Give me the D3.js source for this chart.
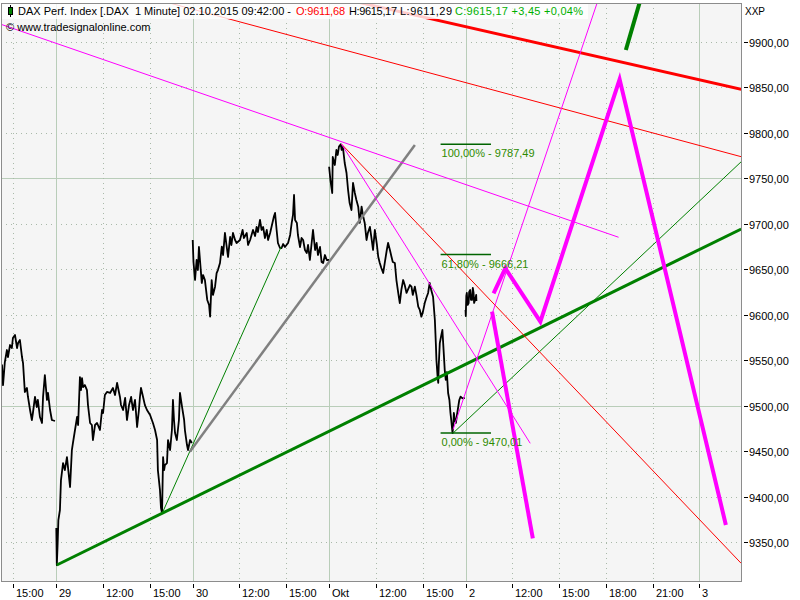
<!DOCTYPE html>
<html><head><meta charset="utf-8">
<script src="https://cdn.jsdelivr.net/npm/d3@7"></script>
<style>
html,body{margin:0;padding:0;background:#fff;}
svg{display:block;font-family:"Liberation Sans",Arial,sans-serif;}
</style></head>
<body><svg id="c" width="800" height="600"></svg>
<script>
// ---------- DATA ----------
// price path per session: [minutes after 09:00, price]
const sep28 = [[312,9530.5],[316,9544.8],[320,9522.7],[327,9548.1],[335,9561.3],[339,9553.6],[347,9566.8],[354,9563.5],[358,9574.5],[366,9577.8],[374,9563.5],[378,9569.0],[385,9572.3],[393,9553.6],[397,9547.0],[404,9515.2],[412,9519.6],[416,9509.7],[424,9495.4],[431,9484.4],[435,9492.1],[443,9509.7],[450,9498.7],[454,9506.4],[462,9487.7],[470,9481.1],[474,9509.7],[481,9533.8],[489,9506.4],[493,9514.1],[501,9495.4],[508,9484.4],[520,9483.3]];
const sep29 = [[0,9365.7],[2,9325.1],[5,9347.0],[8,9374.5],[14,9385.5],[18,9418.4],[26,9437.1],[33,9429.4],[41,9443.7],[53,9410.7],[60,9451.4],[64,9459.1],[72,9473.4],[80,9487.7],[84,9478.9],[91,9531.6],[95,9517.3],[99,9530.5],[103,9520.6],[110,9522.8],[118,9517.3],[122,9500.8],[130,9481.1],[137,9478.9],[141,9462.4],[149,9478.9],[157,9481.1],[168,9473.4],[176,9495.4],[180,9492.1],[187,9511.9],[195,9515.2],[207,9514.1],[218,9519.6],[226,9511.9],[234,9525.1],[245,9509.7],[249,9500.9],[257,9495.4],[265,9508.6],[272,9484.4],[280,9500.9],[288,9509.7],[295,9495.4],[303,9506.4],[311,9476.7],[318,9495.4],[322,9509.7],[326,9519.6],[334,9509.7],[341,9500.8],[349,9495.4],[361,9489.9],[372,9481.1],[380,9473.4],[388,9462.4],[391,9429.4],[399,9407.4],[403,9387.6],[407,9382.1],[411,9443.7],[415,9429.4],[418,9434.9],[426,9437.1],[430,9462.4],[438,9451.4],[445,9473.4],[449,9506.4],[453,9484.4],[457,9470.1],[464,9462.4],[472,9484.4],[476,9514.1],[480,9506.4],[484,9498.7],[492,9484.4],[495,9473.4],[503,9456.9],[507,9451.4],[515,9462.4],[522,9459.1]];
const sep30 = [[0,9682.2],[3,9658.0],[9,9638.2],[15,9660.2],[20,9649.2],[24,9674.5],[35,9634.9],[40,9643.7],[47,9638.2],[56,9616.3],[63,9610.8],[67,9597.9],[73,9638.2],[78,9621.8],[86,9630.9],[92,9645.9],[97,9649.2],[105,9656.9],[112,9674.8],[117,9665.7],[124,9689.9],[130,9676.7],[136,9663.5],[144,9685.5],[149,9676.7],[155,9689.9],[163,9682.2],[169,9678.9],[182,9682.2],[192,9693.2],[197,9684.4],[208,9689.9],[213,9676.7],[221,9682.2],[232,9693.2],[240,9686.6],[246,9696.5],[251,9691.0],[259,9704.2],[265,9693.2],[271,9696.5],[278,9684.4],[285,9693.2],[290,9682.2],[298,9689.9],[305,9698.7],[313,9708.6],[317,9711.9],[323,9693.2],[328,9678.9],[336,9673.4],[342,9673.4],[348,9677.8],[355,9674.5],[367,9678.9],[375,9687.7],[381,9700.9],[386,9709.7],[390,9731.7],[394,9704.2],[401,9700.9],[405,9687.7],[413,9674.5],[419,9684.4],[425,9682.2],[432,9671.2],[439,9667.9],[444,9676.7],[451,9660.2],[457,9676.7],[463,9693.2],[471,9671.2],[477,9678.9],[482,9665.7],[490,9674.5],[496,9658.0],[502,9656.9],[509,9665.7],[516,9660.2],[525,9660.2]];
const oct01 = [[0,9762.7],[5,9748.1],[12,9733.8],[14,9773.4],[22,9764.6],[28,9781.1],[33,9775.6],[38,9784.8],[45,9787.49],[48,9781.1],[53,9784.6],[60,9766.8],[67,9755.8],[73,9737.1],[79,9722.8],[86,9715.1],[92,9744.8],[99,9733.8],[105,9726.1],[112,9718.8],[118,9700.9],[125,9718.8],[130,9709.7],[137,9700.9],[144,9682.2],[149,9689.9],[157,9696.5],[164,9682.2],[169,9671.2],[176,9693.2],[184,9676.7],[189,9663.8],[195,9656.9],[201,9651.4],[208,9645.9],[214,9656.9],[222,9671.2],[227,9678.9],[234,9671.2],[240,9663.8],[245,9658.0],[253,9656.9],[259,9638.2],[266,9624.0],[272,9612.9],[278,9627.3],[285,9638.2],[291,9632.7],[298,9624.0],[303,9627.3],[311,9632.7],[317,9630.9],[322,9621.8],[330,9630.9],[336,9621.8],[343,9608.9],[349,9605.3],[355,9597.9],[361,9603.2],[368,9612.9],[374,9618.5],[381,9624.0],[387,9635.0],[393,9627.3],[400,9619.9],[407,9594.3],[411,9566.8],[413,9550.3],[417,9533.8],[420,9525.1],[422,9544.8],[426,9569.0],[432,9577.8],[436,9583.3],[442,9554.0],[445,9539.3],[449,9528.4],[453,9537.1],[458,9514.1],[463,9506.4],[467,9492.1],[470,9484.4],[475,9470.01],[478,9478.9],[480,9492.1],[484,9484.4],[488,9481.1],[492,9489.9],[497,9499.0],[501,9506.4],[506,9510.0],[511,9508.6],[516,9508.2],[522,9508.6]];
const oct02 = [[0,9605.3],[1,9598.7],[3,9620.7],[5,9624.0],[8,9610.8],[12,9613.0],[14,9625.1],[18,9627.3],[21,9616.3],[25,9616.3],[28,9629.5],[31,9624.0],[33,9613.0],[37,9616.3],[41,9621.8],[42,9615.17]];

// drawing tools: [day, time, price] pairs
const thickGreenTrend = [["29.09","09:02",9325.1],["03.10","02:41",9694.3]];
const thinGreenTrend1 = [["29.09","15:45",9380.3],["30.09","14:40",9674.5]];
const grayTrend       = [["29.09","17:34",9449.6],["01.10","14:30",9786.6]];
const thinGreenTrend2 = [["01.10","16:57",9470.0],["03.10","02:41",9768.2]];
const thickRedTrend   = [["01.10","10:58",9943.0],["03.10","02:41",9847.8]];
const thinRedTrend1   = [["29.09","15:58",9944.0],["03.10","02:41",9773.7]];
const thinRedTrend2   = [["01.10","09:48",9787.5],["03.10","02:41",9326.9]];
const magentaTrend1   = [["28.09","14:08",9919.6],["02.10","18:49",9685.2]];
const magentaTrend2   = [["01.10","09:48",9787.5],["02.10","13:09",9458.8]];
const magentaTrend3   = [["01.10","16:57",9474.0],["02.10","17:26",9942.3]];
const forecastZigzag  = [["02.10","10:48",9623.6],["02.10","11:33",9651.1],["02.10","13:48",9592.4],["02.10","18:53",9858.8],["03.10","01:42",9369.0]];
const forecastDrop    = [["02.10","10:42",9603.4],["02.10","13:19",9354.4]];
const forecastUp      = [["02.10","19:17",9890.9],["02.10","20:11",9944.0]];

const fibRange   = [["01.10","16:09"],["02.10","10:38"]];
const fibLevels  = [9787.49, 9666.21, 9470.01];
const fibNames   = ["100,00%", "61,80%", "0,00%"];

const titleParts = ["DAX Perf. Index [.DAX\u00a0\u00a01 Minute] 02.10.2015 09:42:00 -", "O:9611,68", "H:9615,17", "L:9611,29", "C:9615,17 +3,45 +0,04%"];

const yTicks = [9350,9400,9450,9500,9550,9600,9650,9700,9750,9800,9850,9900];
const xTickDays  = ["28.09","29.09","29.09","29.09","30.09","30.09","30.09","01.10","01.10","01.10","02.10","02.10","02.10","02.10","02.10","03.10"];
const xTickTimes = ["15:00","09:00","12:00","15:00","09:00","12:00","15:00","09:00","12:00","15:00","09:00","12:00","15:00","18:00","21:00","00:00"];
const xTickLabels= ["15:00","29","12:00","15:00","30","12:00","15:00","Okt","12:00","15:00","2","12:00","15:00","18:00","21:00","3"];

// ---------- SCALES ----------
const sessionDays = ["28.09","29.09","30.09","01.10"];
const SESSION = 525; // 09:00-17:45
function sm(day, hm){
  const [h,m] = hm.split(":").map(Number);
  const i = sessionDays.indexOf(day);
  if (i >= 0) return i*SESSION + (h-9)*60 + m;
  if (day === "02.10") return 4*SESSION + (h-9)*60 + m;
  return 4*SESSION + 15*60 + h*60 + m; // 03.10
}
const L=1, R=741, T=3, B=581;
const x = d3.scaleLinear().domain([312.2, 3160.2]).range([L, R]);
const y = d3.scaleLinear().domain([9307.5, 9942.6]).range([B, T]);

const svg = d3.select("#c");
svg.append("rect").attr("x",0).attr("y",0).attr("width",800).attr("height",600).attr("fill","#fff");
svg.append("rect").attr("x",L).attr("y",T).attr("width",R-L).attr("height",B-T).attr("fill","#f5f5f5");
svg.append("clipPath").attr("id","pc").append("rect").attr("x",L).attr("y",T).attr("width",R-L).attr("height",B-T);
const plot = svg.append("g").attr("clip-path","url(#pc)");

// grid
const gridSolid="#b9cdb9", gridDot="#a9b9a9";
yTicks.forEach(v=>{
  const solid = v % 250 === 0;
  plot.append("line").attr("x1",L).attr("x2",R).attr("y1",Math.round(y(v))+0.5).attr("y2",Math.round(y(v))+0.5)
    .attr("stroke", solid?gridSolid:gridDot).attr("stroke-width",1).attr("stroke-dasharray", solid?null:"1,4");
});
xTickTimes.forEach((t,i)=>{
  const xv = Math.round(x(sm(xTickDays[i],t)))+0.5;
  const solid = /^[0-9]+$|Okt/.test(xTickLabels[i]);
  plot.append("line").attr("x1",xv).attr("x2",xv).attr("y1",T).attr("y2",B)
    .attr("stroke", solid?gridSolid:gridDot).attr("stroke-width",1).attr("stroke-dasharray", solid?null:"1,4");
});

// price path, one path per session (gaps between sessions are not joined)
const series = [sep28, sep29, sep30, oct01, oct02];
const line = d3.line().x(d=>x(d[0])).y(d=>y(d[1]));
series.forEach((s,i)=>{
  const pts = s.map(([m,p])=>[i*SESSION+m, p]);
  plot.append("path").attr("d", line(pts)).attr("fill","none").attr("stroke","#000").attr("stroke-width",1.8).attr("stroke-linejoin","round");
});

// drawing tools
const toXY = a => [sm(a[0],a[1]), a[2]];
function draw(arr, color, w){
  plot.append("path").attr("d", line(arr.map(toXY))).attr("fill","none").attr("stroke",color).attr("stroke-width",w).attr("stroke-linejoin","miter");
}
draw(thickGreenTrend, "#008000", 3);
draw(thinGreenTrend1, "#008000", 1);
draw(thinGreenTrend2, "#008000", 1);
draw(grayTrend, "#808080", 2.5);
draw(thickRedTrend, "#ff0000", 3);
draw(thinRedTrend1, "#ff0000", 1);
draw(thinRedTrend2, "#ff0000", 1);
draw(magentaTrend1, "#ff00ff", 1);
draw(magentaTrend2, "#ff00ff", 1);
draw(magentaTrend3, "#ff00ff", 1);
draw(forecastZigzag, "#ff00ff", 4);
draw(forecastDrop, "#ff00ff", 4);
draw(forecastUp, "#008000", 4);

// fibonacci
const fx1 = x(sm(...fibRange[0])), fx2 = x(sm(...fibRange[1]));
fibLevels.forEach((v,i)=>{
  plot.append("line").attr("x1",fx1).attr("x2",fx2).attr("y1",y(v)).attr("y2",y(v)).attr("stroke","#006400").attr("stroke-width",1.5);
  plot.append("text").attr("x",fx1+1).attr("y",y(v)+13).attr("font-size",11).attr("fill","#2e8b00")
    .text(fibNames[i]+" - "+d3.format(".2f")(v).replace(".",","));
});

// title box
svg.append("rect").attr("x",L).attr("y",T).attr("width",587).attr("height",16).attr("fill","#fff").attr("opacity",0.8);
svg.append("line").attr("x1",10.5).attr("x2",10.5).attr("y1",5).attr("y2",17).attr("stroke","#000");
svg.append("rect").attr("x",8.5).attr("y",7.5).attr("width",4).attr("height",7).attr("fill","#008000").attr("stroke","#000");
const titleX = [18, 296, 349, 400, 455];
const titleW = [273, 49, 48, 52, 128];
const titleCol = ["#000","#ff0000","#000","#000","#00b000"];
titleParts.forEach((p,i)=> svg.append("text").attr("x",titleX[i]).attr("y",15).attr("font-size",11)
  .attr("textLength",titleW[i]).attr("lengthAdjust","spacing").attr("fill",titleCol[i]).text(p));
svg.append("text").attr("x",6).attr("y",31).attr("font-size",11).attr("fill","#000").text("\u00a9 www.tradesignalonline.com");

// frame
svg.append("rect").attr("x",L+0.5).attr("y",T+0.5).attr("width",R-L).attr("height",B-T).attr("fill","none").attr("stroke","#8c8c8c");

// y axis
svg.append("text").attr("x",745).attr("y",15).attr("font-size",10).attr("fill","#000").text("XXP");
yTicks.forEach(v=>{
  const yy = Math.round(y(v))+0.5;
  svg.append("line").attr("x1",R+3).attr("x2",R+7).attr("y1",yy).attr("y2",yy).attr("stroke","#000");
  svg.append("text").attr("x",749).attr("y",yy+4).attr("font-size",11).attr("fill","#000").text(d3.format(".2f")(v).replace(".",","));
});
// x axis
xTickTimes.forEach((t,i)=>{
  const xv = Math.round(x(sm(xTickDays[i],t)))+0.5;
  svg.append("line").attr("x1",xv).attr("x2",xv).attr("y1",B+3).attr("y2",B+7).attr("stroke","#000");
  svg.append("text").attr("x",xv+2.5).attr("y",597).attr("font-size",11).attr("fill","#000").text(xTickLabels[i]);
});
</script></body></html>
